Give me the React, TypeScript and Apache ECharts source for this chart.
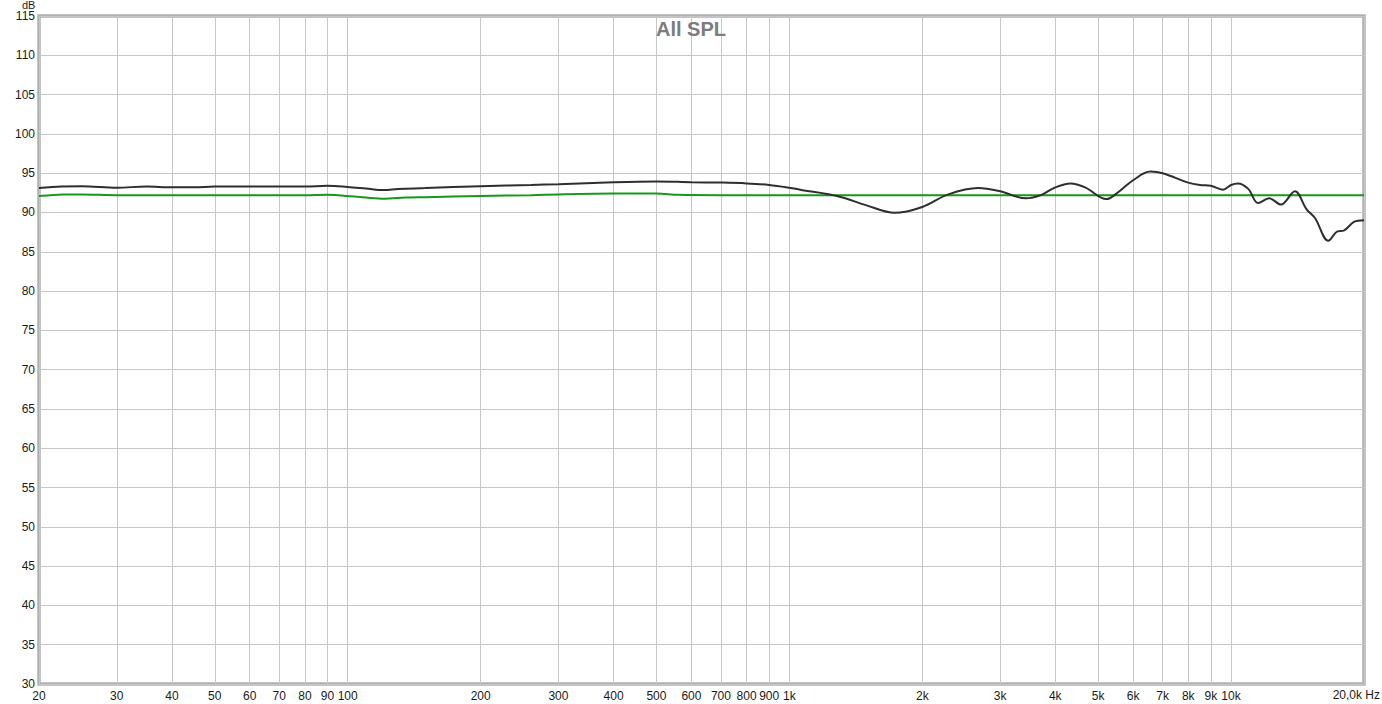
import React, { useEffect, useRef } from "react";
import * as echarts from "echarts";

const blackFreq = [20, 22.5, 25, 30, 35, 40, 45, 50, 60, 70, 80, 90, 100, 110, 121, 130, 150, 200, 260, 300, 400, 500, 600, 700, 800, 900, 1000, 1058, 1282, 1496, 1730, 2000, 2290, 2673, 3000, 3434, 3710, 4000, 4332, 4674, 5221, 5559, 6000, 6567, 7000, 8000, 8504, 9000, 9583, 10000, 10363, 10940, 11510, 12210, 12970, 13950, 14830, 15490, 16600, 17420, 18000, 18980, 20000];
const blackDb = [93.1, 93.3, 93.35, 93.15, 93.3, 93.2, 93.2, 93.3, 93.3, 93.3, 93.3, 93.4, 93.25, 93.05, 92.85, 93.0, 93.1, 93.35, 93.5, 93.6, 93.85, 93.95, 93.85, 93.8, 93.7, 93.5, 93.15, 92.9, 92.1, 90.9, 89.95, 90.7, 92.3, 93.1, 92.7, 91.8, 92.2, 93.2, 93.7, 93.2, 91.7, 92.6, 94.1, 95.2, 95.0, 93.8, 93.5, 93.4, 92.9, 93.5, 93.7, 93.0, 91.2, 91.8, 91.0, 92.7, 90.4, 89.3, 86.4, 87.6, 87.7, 88.8, 89.0];

const greenFreq = [20, 22.7, 25, 30, 40, 50, 60, 80, 90, 100, 110, 121, 135, 150, 200, 260, 300, 400, 500, 560, 700, 1000, 20000];
const greenDb = [92.1, 92.3, 92.3, 92.2, 92.2, 92.2, 92.2, 92.2, 92.25, 92.1, 91.9, 91.75, 91.9, 91.95, 92.1, 92.2, 92.3, 92.4, 92.4, 92.25, 92.2, 92.2, 92.2];

const tickFreqs = [20, 30, 40, 50, 60, 70, 80, 90, 100, 200, 300, 400, 500, 600, 700, 800, 900, 1000, 2000, 3000, 4000, 5000, 6000, 7000, 8000, 9000, 10000, 20000];
const tickLabels = ["20", "30", "40", "50", "60", "70", "80", "90", "100", "200", "300", "400", "500", "600", "700", "800", "900", "1k", "2k", "3k", "4k", "5k", "6k", "7k", "8k", "9k", "10k", "20,0k Hz"];

const yMin = 30;
const yMax = 115;
const yStep = 5;
const titleText = "All SPL";
const yUnit = "dB";

const FONT = "'Liberation Sans', Arial, sans-serif";

export default function App() {
  const ref = useRef<HTMLDivElement>(null);
  useEffect(() => {
    if (!ref.current) return;
    const chart = echarts.init(ref.current, null, { renderer: "svg" });
    const lg = (f: number) => Math.log10(f);
    const lastIdx = tickFreqs.length - 1;
    const option = {
      animation: false,
      backgroundColor: "#ffffff",
      title: {
        text: titleText,
        left: "center",
        top: 14,
        textStyle: { fontSize: 20, fontWeight: "bold", color: "#7c7c7c", fontFamily: FONT },
      },
      grid: {
        left: 39,
        right: 18,
        top: 16,
        bottom: 20,
        show: true,
        borderColor: "#b0b0b0",
        borderWidth: 3.5,
        backgroundColor: "transparent",
      },
      xAxis: {
        type: "value",
        min: lg(20),
        max: lg(20000),
        axisLine: { show: false },
        axisTick: { show: false, customValues: tickFreqs.map(lg) },
        splitLine: { show: true, lineStyle: { color: "#c6c6c6", width: 1 } },
        axisLabel: {
          customValues: tickFreqs.slice(0, lastIdx).map(lg),
          color: "#1a1a1a",
          fontSize: 12,
          fontFamily: FONT,
          margin: 6,
          formatter: (v: number) => {
            let best = 0;
            let bd = Infinity;
            tickFreqs.forEach((f, i) => {
              const d = Math.abs(lg(f) - v);
              if (d < bd) {
                bd = d;
                best = i;
              }
            });
            return tickLabels[best];
          },
        },
      },
      yAxis: {
        type: "value",
        min: yMin,
        max: yMax,
        interval: yStep,
        axisLine: { show: false },
        axisTick: { show: false },
        splitLine: { show: true, lineStyle: { color: "#c6c6c6", width: 1 } },
        axisLabel: { color: "#1a1a1a", fontSize: 12, fontFamily: FONT, margin: 4 },
      },
      graphic: [
        {
          type: "text",
          left: 22,
          top: -1,
          style: { text: yUnit, fontSize: 11, fontFamily: FONT, fill: "#1a1a1a" },
        },
        {
          type: "text",
          right: 2,
          top: 689,
          style: { text: tickLabels[lastIdx], fontSize: 12, fontFamily: FONT, fill: "#1a1a1a" },
        },
      ],
      series: [
        {
          type: "line",
          data: greenFreq.map((f, i) => [lg(f), greenDb[i]]),
          showSymbol: false,
          smooth: 0.3,
          lineStyle: { color: "#16991a", width: 2 },
          z: 2,
        },
        {
          type: "line",
          data: blackFreq.map((f, i) => [lg(f), blackDb[i]]),
          showSymbol: false,
          smooth: 0.35,
          lineStyle: { color: "#2e2e2e", width: 2 },
          z: 3,
        },
      ],
    };
    chart.setOption(option);
    return () => chart.dispose();
  }, []);
  return <div ref={ref} style={{ position: "fixed", left: 0, top: 0, width: 1382, height: 704 }} />;
}
